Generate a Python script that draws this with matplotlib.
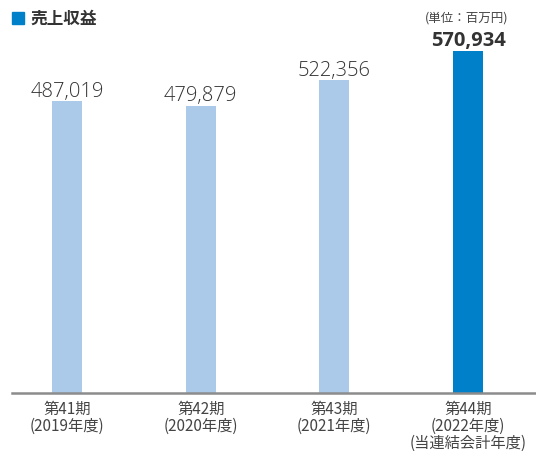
import matplotlib
matplotlib.use("Agg")
import matplotlib.pyplot as plt
from matplotlib.patches import Rectangle

plt.rcParams['font.family'] = ['Noto Sans CJK JP', 'DejaVu Sans']

categories = ["第41期\n(2019年度)", "第42期\n(2020年度)", "第43期\n(2021年度)", "第44期\n(2022年度)\n(当連結会計年度)"]
values = [487019, 479879, 522356, 570934]
value_labels = ["487,019", "479,879", "522,356", "570,934"]
title = "売上収益"
unit = "(単位：百万円)"

W, H = 536, 452
fig = plt.figure(figsize=(W/100, H/100), dpi=100)
ax = fig.add_axes([12/W, (H-394)/H, 1-12/W, (394-52)/H])

light = "#abcaea"
dark = "#0080c8"
colors = [light, light, light, dark]
xs = [0, 1, 2, 3.0]
ax.bar(xs, values, width=30/133.7, color=colors, zorder=2)
ax.set_xlim(-55/133.7, 3 + 68/133.7)
ax.set_ylim(0, max(values))
for s in ["top", "right", "left"]:
    ax.spines[s].set_visible(False)
ax.spines["bottom"].set_color("#8c8c8c")
ax.spines["bottom"].set_linewidth(1.8)
ax.set_yticks([])
ax.set_xticks(xs)
ax.set_xticklabels(categories, fontsize=11, color="#444444", linespacing=1.0,
                   family=['Noto Sans CJK JP', 'DejaVu Sans'])
ax.tick_params(axis="x", length=0, pad=5)

for i, (x, v, lab) in enumerate(zip(xs, values, value_labels)):
    bold = i == 3
    ax.annotate(lab, (x, v), xytext=(0, 4), textcoords="offset points",
                ha="center", va="baseline", fontsize=14.5,
                fontweight="bold" if bold else "light", color="#333333",
                family=['Open Sans', 'DejaVu Sans'],
                annotation_clip=False)

fig.patches.append(Rectangle((12/W, 1-25/H), 12/W, 12/H, transform=fig.transFigure,
                             color=dark, figure=fig))
fig.text(30/W, 1-19/H, title, fontsize=12, fontweight="bold", color="#333333", va="center", ha="left")
fig.text(467/W, 1-18/H, unit, fontsize=9, color="#444444", va="center", ha="center")

fig.savefig("out.png", dpi=100)
